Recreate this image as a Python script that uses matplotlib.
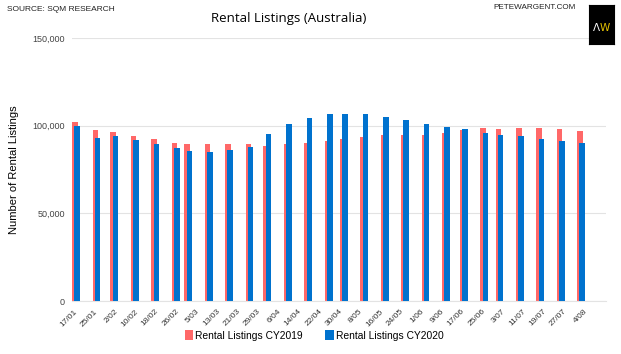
import matplotlib
matplotlib.use("Agg")
import matplotlib.pyplot as plt
import matplotlib.dates as mdates
import pandas as pd

# data (weekly-ish SQM rental listings)
bar_dates = ['2020-01-18', '2020-01-26', '2020-02-02', '2020-02-10', '2020-02-18', '2020-02-26',
             '2020-03-02', '2020-03-10', '2020-03-18', '2020-03-26', '2020-04-02', '2020-04-10',
             '2020-04-18', '2020-04-26', '2020-05-02', '2020-05-10', '2020-05-18', '2020-05-26',
             '2020-06-03', '2020-06-11', '2020-06-18', '2020-06-26', '2020-07-02', '2020-07-10',
             '2020-07-18', '2020-07-26', '2020-08-03']
cy2019 = [102000, 97700, 96200, 94100, 92200, 90300, 89500, 89700, 89700, 89500, 88600, 89700,
          90100, 91200, 92200, 93500, 94700, 94700, 94700, 96000, 97700, 98500, 98100, 98600,
          98900, 97900, 96800]
cy2020 = [99800, 93200, 94100, 92000, 89700, 87300, 85500, 85200, 85900, 87800, 95000, 100700,
          104500, 106400, 106600, 106600, 104900, 103400, 100700, 99400, 98100, 96000, 94500, 94100,
          92600, 91500, 89900]
tick_start = '2020-01-17'
tick_end = '2020-08-04'
series_names = ['Rental Listings CY2019', 'Rental Listings CY2020']
colors = ('#ff6868', '#0072ce')

x = mdates.date2num(pd.to_datetime(bar_dates))
base = mdates.date2num(pd.Timestamp(tick_start))

fig = plt.figure(figsize=(6.21, 3.54), dpi=100)
ax = fig.add_axes([0.116, 0.1497, 0.86, 0.743])

w = 2.2
ax.bar(x - 0.45, cy2019, width=w, color=colors[0], label=series_names[0], zorder=2)
ax.bar(x + 0.45, cy2020, width=w, color=colors[1], label=series_names[1], zorder=3)

ax.set_ylim(0, 150000)
ax.set_yticks([0, 50000, 100000, 150000])
ax.set_yticklabels(['0', '50,000', '100,000', '150,000'])
ax.set_xlim(base - 0.6, base + 208.8)

ticks = pd.date_range(tick_start, tick_end, freq='8D')
ax.set_xticks(mdates.date2num(ticks))
ax.set_xticklabels([f'{d.day}/{d.month:02d}' for d in ticks], rotation=45, ha='right',
                   rotation_mode='anchor', fontsize=6, color='#333333', family='Liberation Sans')
ax.tick_params(axis='x', length=0, pad=5)
ax.tick_params(axis='y', length=0, pad=5, labelsize=6.5, labelcolor='#444444')
for lab in ax.get_yticklabels():
    lab.set_family('Liberation Sans')

ax.grid(axis='y', color='#e3e3e3', linewidth=0.8, zorder=0)
ax.set_axisbelow(True)
for s in ['top', 'right', 'left']:
    ax.spines[s].set_visible(False)
ax.spines['bottom'].set_color('#e3e3e3')

ax.set_ylabel('Number of Rental Listings', fontsize=8, family='Liberation Sans', labelpad=10)

fig.legend(loc='center', bbox_to_anchor=(0.506, 0.052), ncol=2, frameon=False,
           prop={'family': 'Liberation Sans', 'size': 7.4}, handlelength=0.8, handleheight=1.1,
           handletextpad=0.2, columnspacing=2.2)

fig.text(0.011, 0.972, 'SOURCE: SQM RESEARCH', fontsize=6, family='Liberation Sans',
         va='center', color='#222222')
fig.text(0.465, 0.948, 'Rental Listings (Australia)', fontsize=9.5, family='Open Sans',
         ha='center', va='center')
fig.text(0.795, 0.978, 'PETEWARGENT.COM', fontsize=5.9, family='Liberation Sans',
         va='center', color='#222222')

# AW logo box
logo = fig.add_axes([0.948, 0.876, 0.04, 0.11])
logo.set_facecolor('black')
logo.set_xticks([])
logo.set_yticks([])
logo.text(0.33, 0.42, '\u039b', color='white', fontsize=7.5, ha='center', va='center',
          transform=logo.transAxes)
logo.text(0.64, 0.42, 'W', color='#e8c400', fontsize=7.5, ha='center', va='center',
          transform=logo.transAxes)

fig.savefig('out.png', dpi=100)
